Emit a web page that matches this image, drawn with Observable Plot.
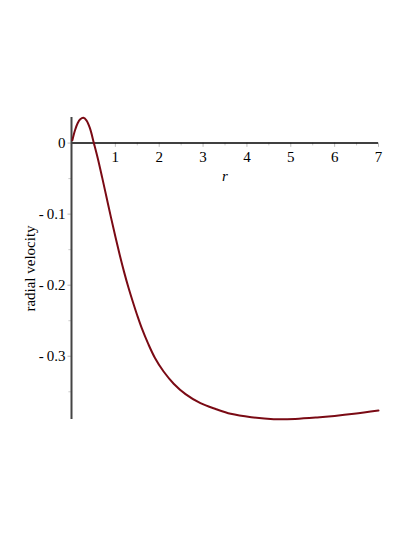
<!DOCTYPE html>
<html>
<head>
<meta charset="utf-8">
<script src="https://cdn.jsdelivr.net/npm/d3@7"></script>
<script src="https://cdn.jsdelivr.net/npm/@observablehq/plot@0.6"></script>
<style>
  html, body { margin: 0; padding: 0; background: #fff; }
</style>
</head>
<body>
<div id="chart"></div>
<script>
const rValues = [0.02, 0.08, 0.14, 0.2, 0.27, 0.34, 0.42, 0.51, 0.6, 0.7, 0.8, 0.9, 1.0, 1.1, 1.2, 1.3, 1.4, 1.5, 1.6, 1.75, 1.9, 2.1, 2.33, 2.6, 2.94, 3.3, 3.63, 4.1, 4.61, 5.1, 5.6, 6.0, 6.44, 7.0];
const velocity = [0.004, 0.018, 0.028, 0.0335, 0.0355, 0.032, 0.021, 0.0, -0.0216, -0.0486, -0.0766, -0.1046, -0.1316, -0.1576, -0.1816, -0.2036, -0.2236, -0.2426, -0.2601, -0.2826, -0.302, -0.3215, -0.3386, -0.3533, -0.366, -0.3745, -0.381, -0.3858, -0.3885, -0.3882, -0.3862, -0.3840, -0.381, -0.3764];
const xTickValues = [1, 2, 3, 4, 5, 6, 7];
const xMinorTicks = [0.5, 1.5, 2.5, 3.5, 4.5, 5.5, 6.5];
const yTickValues = [0, -0.1, -0.2, -0.3];
const yTickLabels = ["0", "-\u20090.1", "-\u20090.2", "-\u20090.3"];
const yMinorTicks = [-0.05, -0.15, -0.25, -0.35];
const xLabel = "r";
const yLabel = "radial velocity";

const curve = rValues.map((r, i) => ({r, v: velocity[i]}));
const yTicks = yTickValues.map((v, i) => ({v, label: yTickLabels[i]}));
const font = "'Liberation Serif', 'Times New Roman', serif";

const chart = Plot.plot({
  width: 415,
  height: 537,
  marginLeft: 71,
  marginRight: 37,
  marginTop: 117,
  marginBottom: 118,
  style: {background: "#fff", fontFamily: font},
  x: {domain: [0, 7], axis: null},
  y: {domain: [-0.389, 0.036], axis: null},
  marks: [
    // minor / major ticks (faint)
    Plot.ruleX(xTickValues, {x: d => d, y1: 0, y2: -0.006, stroke: "#bbb", strokeWidth: 1}),
    Plot.ruleX(xMinorTicks, {x: d => d, y1: 0, y2: -0.004, stroke: "#ccc", strokeWidth: 1}),
    Plot.ruleY(yTickValues, {y: d => d, x1: 0, x2: -0.08, stroke: "#bbb", strokeWidth: 1}),
    Plot.ruleY(yMinorTicks, {y: d => d, x1: 0, x2: -0.06, stroke: "#ccc", strokeWidth: 1}),
    // axes lines
    Plot.ruleY([0], {stroke: "#000", strokeWidth: 1.5}),
    Plot.ruleX([0], {stroke: "#444", strokeWidth: 2}),
    // tick labels
    Plot.text(xTickValues, {x: d => d, y: 0, text: d => String(d), dy: 14, fontSize: 15, fontFamily: font, fill: "#000"}),
    Plot.text(yTicks, {x: 0, y: "v", text: "label", dx: -6, textAnchor: "end", fontSize: 15, fontFamily: font, fill: "#000"}),
    // axis labels
    Plot.text([xLabel], {frameAnchor: "top", dy: 53, text: d => d, fontSize: 15, fontStyle: "italic", fontFamily: font, fill: "#000"}),
    Plot.text([yLabel], {frameAnchor: "left", dx: -41, rotate: -90, textAnchor: "middle", text: d => d, fontSize: 15, fontFamily: font, fill: "#000"}),
    // curve
    Plot.line(curve, {x: "r", y: "v", stroke: "#7a0a14", strokeWidth: 2, curve: "catmull-rom"})
  ]
});
document.getElementById("chart").appendChild(chart);
</script>
</body>
</html>
